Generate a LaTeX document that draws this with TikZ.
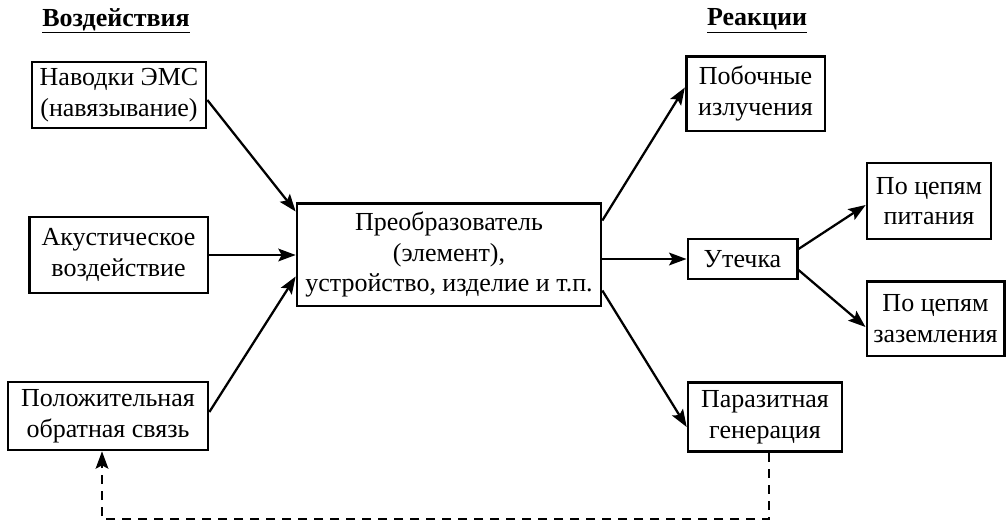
\documentclass[tikz,border=0pt]{standalone}
\usepackage{fontspec}
\setmainfont{Liberation Serif}
\usetikzlibrary{arrows.meta,calc}
\tikzset{
  bx/.style={draw,line width=2pt,inner sep=0pt,align=center,font=\fontsize{19.5}{23}\selectfont},
  title/.style={font=\fontsize{19.5}{23}\selectfont\bfseries},
  arr/.style={line width=1.7pt,-{Stealth[length=13pt,width=9.5pt,inset=2.5pt]}}
}
\begin{document}
\begin{tikzpicture}[x=0.75pt,y=-0.75pt]
\useasboundingbox (0,0) rectangle (1007,522);
\node[title] (t1) at (116,21) {\underline{Воздействия}};
\node[title] (t2) at (757,21) {\underline{Реакции}};
\node[bx,minimum width=130.5pt,minimum height=49.5pt] (n1) at (119,95) {Наводки ЭМС\\(навязывание)};
\node[bx,minimum width=134pt,minimum height=57pt] (n2) at (118.5,255) {Акустическое\\воздействие};
\node[bx,minimum width=150pt,minimum height=51pt] (n3) at (108,416) {Положительная\\обратная связь};
\node[bx,minimum width=228pt,minimum height=77pt] (c) at (449,254.5) {Преобразователь\\(элемент),\\устройство, изделие и т.п.};
\node[bx,minimum width=104pt,minimum height=56pt] (pb) at (755.5,93.5) {Побочные\\излучения};
\node[bx,minimum width=82pt,minimum height=30pt] (ut) at (742.5,259) {Утечка};
\node[bx,minimum width=93pt,minimum height=57pt] (pp) at (929,201) {По цепям\\питания};
\node[bx,minimum width=103pt,minimum height=56pt] (pzz) at (935.5,318.5) {По цепям\\заземления};
\node[bx,minimum width=115.5pt,minimum height=52pt] (pz) at (765,417) {Паразитная\\генерация};
\draw[arr] ($(n1.east)+(0,5)$) -- ($(c.west)+(0,-43)$);
\draw[arr] (n2.east) -- (c.west |- n2.east);
\draw[arr] ($(n3.east)+(0,-4)$) -- ($(c.west)+(0,22)$);
\draw[arr] ($(c.east)+(0,-34)$) -- ($(pb.west)+(0,-6)$);
\draw[arr] (c.east |- ut.west) -- (ut.west);
\draw[arr] ($(c.east)+(0,36)$) -- ($(pz.west)+(0,10)$);
\draw[arr] ($(ut.east)+(0,-10)$) -- ($(pp.west)+(0,4)$);
\draw[arr] ($(ut.east)+(0,11)$) -- ($(pzz.west)+(0,8.5)$);
\draw[arr,dash pattern=on 7pt off 5pt] ($(pz.south)+(4,0)$) -- ($(pz.south)+(4,66)$) -| ($(n3.south)+(-6,0)$);
\end{tikzpicture}
\end{document}
